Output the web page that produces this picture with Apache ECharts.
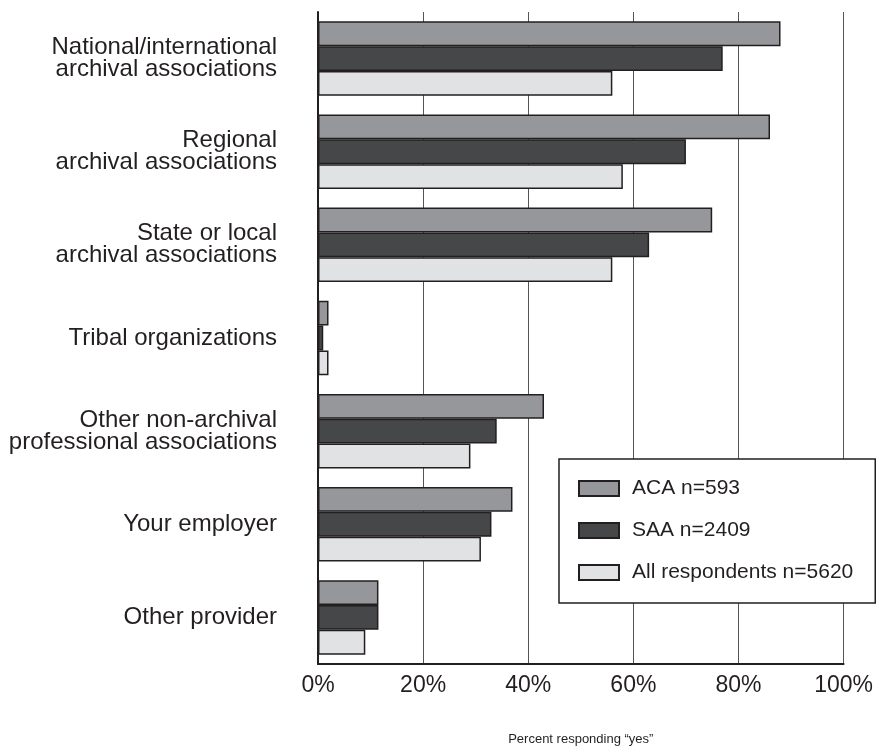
<!DOCTYPE html>
<html>
<head>
<meta charset="utf-8">
<script src="https://cdn.jsdelivr.net/npm/echarts@6/dist/echarts.min.js"></script>
<style>
  html, body { margin: 0; padding: 0; background: #fff; }
  #chart { width: 876px; height: 751px; }
</style>
</head>
<body>
<div id="chart"></div>
<script>
// categories, top to bottom
const categories = [
  'National/international\narchival associations',
  'Regional\narchival associations',
  'State or local\narchival associations',
  'Tribal organizations',
  'Other non-archival\nprofessional associations',
  'Your employer',
  'Other provider',
]

// percent responding "yes"
const acaValues = [88, 86, 75, 2, 43, 37, 11.5]
const saaValues = [77, 70, 63, 1, 34, 33, 11.5]
const allValues = [56, 58, 56, 2, 29, 31, 9]

const seriesNames = ['ACA n=593', 'SAA n=2409', 'All respondents n=5620']
const xTicks = [0, 20, 40, 60, 80, 100]

const chart = echarts.init(document.getElementById('chart'))

const barStyle = (color) => ({
  color: color,
  borderColor: '#231f20',
  borderWidth: 1.5,
})

const option = {
  animation: false,
  backgroundColor: '#fff',
  textStyle: { fontFamily: 'Liberation Sans, Arial, sans-serif', color: '#231f20' },
  grid: {
    left: 318,
    right: 31,
    top: 12,
    bottom: 78,
  },
  legend: {
    orient: 'vertical',
    left: 559,
    top: 459,
    backgroundColor: '#fff',
    borderColor: '#231f20',
    borderWidth: 1.5,
    borderRadius: 0,
    padding: [19, 22, 20, 19],
    itemWidth: 40,
    itemHeight: 15,
    itemGap: 21,
    icon: 'rect',
    textStyle: { fontSize: 21, color: '#231f20', padding: [0, 0, 0, 8] },
    data: seriesNames,
  },
  xAxis: {
    type: 'value',
    min: xTicks[0],
    max: xTicks[xTicks.length - 1],
    interval: 20,
    name: 'Percent responding \u201cyes\u201d',
    nameLocation: 'middle',
    nameGap: 69,
    nameTextStyle: { fontSize: 13, color: '#231f20' },
    axisLine: { show: true, lineStyle: { color: '#231f20', width: 2 } },
    axisTick: { show: false },
    axisLabel: { formatter: '{value}%', fontSize: 23, color: '#231f20', margin: 10 },
    splitLine: { show: true, lineStyle: { color: '#555', width: 1 } },
  },
  yAxis: {
    type: 'category',
    inverse: true,
    data: categories,
    axisLine: { show: true, lineStyle: { color: '#231f20', width: 2 } },
    axisTick: { show: false },
    axisLabel: { fontSize: 24, color: '#231f20', margin: 41, lineHeight: 22, align: 'right' },
    splitLine: { show: false },
  },
  series: [
    {
      name: seriesNames[0],
      type: 'bar',
      data: acaValues,
      barGap: '0%',
      barCategoryGap: '20%',
      itemStyle: barStyle('#96979b'),
    },
    {
      name: seriesNames[1],
      type: 'bar',
      data: saaValues,
      barGap: '0%',
      barCategoryGap: '20%',
      itemStyle: barStyle('#464749'),
    },
    {
      name: seriesNames[2],
      type: 'bar',
      data: allValues,
      barGap: '0%',
      barCategoryGap: '20%',
      itemStyle: barStyle('#e1e2e4'),
    },
  ],
}

chart.setOption(option)
</script>
</body>
</html>
